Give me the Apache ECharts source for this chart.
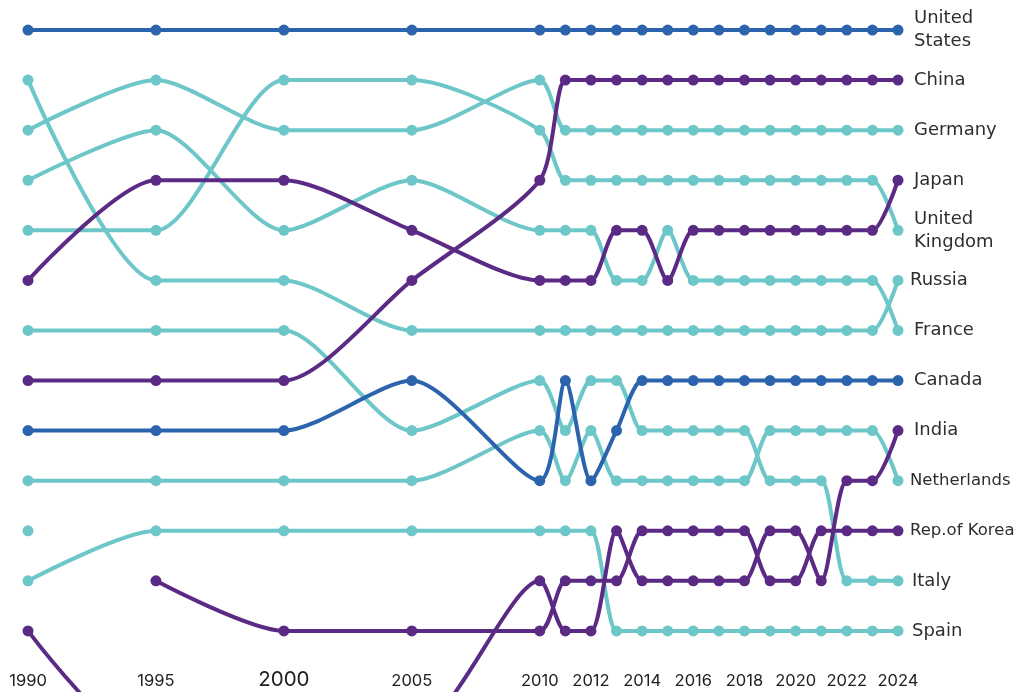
<!DOCTYPE html>
<html><head><meta charset="utf-8">
<script src="https://cdn.jsdelivr.net/npm/echarts@6/dist/echarts.min.js"></script>
<style>html,body{margin:0;padding:0;background:#fff}#c{width:1022px;height:692px}</style>
</head><body><div id="c"></div>
<script>
const years = [1990,1995,2000,2005,2010,2011,2012,2013,2014,2015,2016,2017,2018,2019,2020,2021,2022,2023,2024];
const tickYears = [1990,1995,2000,2005,2010,2012,2014,2016,2018,2020,2022,2024];

const unitedStates  = [1,1,1,1,1,1,1,1,1,1,1,1,1,1,1,1,1,1,1];
const china         = [8,8,8,6,4,2,2,2,2,2,2,2,2,2,2,2,2,2,2];
const germany       = [3,2,3,3,2,3,3,3,3,3,3,3,3,3,3,3,3,3,3];
const japan         = [6,4,4,5,6,6,6,5,5,6,5,5,5,5,5,5,5,5,4];
const unitedKingdom = [5,5,2,2,3,4,4,4,4,4,4,4,4,4,4,4,4,4,5];
const russia        = [2,6,6,7,7,7,7,7,7,7,7,7,7,7,7,7,7,7,6];
const france        = [4,3,5,4,5,5,5,6,6,5,6,6,6,6,6,6,6,6,7];
const canada        = [9,9,9,8,10,8,10,9,8,8,8,8,8,8,8,8,8,8,8];
const india         = [13,15.4,15,15,12,13,13,11,12,12,12,12,12,11,11,12,10,10,9];
const netherlands   = [10,10,10,10,9,10,9,10,10,10,10,10,10,9,9,9,9,9,10];
const korea         = [null,12,13,13,13,12,12,12,11,11,11,11,11,12,12,11,11,11,11];
const italy         = [7,7,7,9,8,9,8,8,9,9,9,9,9,10,10,10,12,12,12];
const spain         = [12,11,11,11,11,11,11,13,13,13,13,13,13,13,13,13,13,13,13];
const other1990     = [11,null,null,null,null,null,null,null,null,null,null,null,null,null,null,null,null,null,null];

const BLUE = '#2b64ad', PURPLE = '#5b2a85', TEAL = '#6dc6c8';

// [name, label, values, color, labelFontSize, labelDistance]
const countries = [
  ['Other', '', other1990, TEAL, 18, 16],
  ['Spain', 'Spain', spain, TEAL, 18, 14],
  ['Italy', 'Italy', italy, TEAL, 18, 14],
  ['Netherlands', 'Netherlands', netherlands, TEAL, 16.5, 12],
  ['France', 'France', france, TEAL, 18, 16],
  ['Russia', 'Russia', russia, TEAL, 18, 12],
  ['United Kingdom', 'United\nKingdom', unitedKingdom, TEAL, 18, 16],
  ['Germany', 'Germany', germany, TEAL, 18, 16],
  ['India', 'India', india, PURPLE, 18, 16],
  ['Rep.of Korea', 'Rep.of Korea', korea, PURPLE, 16.5, 12],
  ['Japan', 'Japan', japan, PURPLE, 18, 16],
  ['China', 'China', china, PURPLE, 18, 16],
  ['Canada', 'Canada', canada, BLUE, 18, 16],
  ['United States', 'United\nStates', unitedStates, BLUE, 18, 16]
];

const FONT = '"DejaVu Sans", sans-serif';
const AXIS_FONT = 'Inter, sans-serif';

const series = countries.map(([name, label, vals, color, fs, dist]) => ({
  name: name,
  type: 'line',
  smooth: 0.25,
  symbol: 'circle',
  symbolSize: 11,
  data: years.map((y, i) => [y, vals[i]]),
  lineStyle: { width: 4, color: color },
  itemStyle: { color: color },
  emphasis: { disabled: true },
  endLabel: label ? {
    show: true,
    formatter: label,
    distance: dist,
    fontSize: fs,
    lineHeight: 23,
    color: '#2e2e2e',
    fontFamily: FONT
  } : { show: false },
  clip: true
}));

const chart = echarts.init(document.getElementById('c'));
chart.setOption({
  animation: false,
  backgroundColor: '#ffffff',
  grid: { left: 28, right: 124, top: 0, bottom: 0 },
  xAxis: {
    type: 'value', min: 1990, max: 2024,
    axisLine: { show: false }, axisTick: { show: false }, splitLine: { show: false },
    axisLabel: {
      customValues: tickYears,
      inside: true,
      margin: 2,
      fontSize: 16.5,
      fontFamily: AXIS_FONT,
      color: '#1e1e1e',
      formatter: v => v === 2000 ? '{big|2000}' : String(v),
      rich: { big: { fontSize: 20.5, fontFamily: AXIS_FONT, color: '#1e1e1e' } }
    }
  },
  yAxis: { type: 'value', inverse: true, min: 0.4, max: 14.22, show: false },
  series: series
});
</script></body></html>
